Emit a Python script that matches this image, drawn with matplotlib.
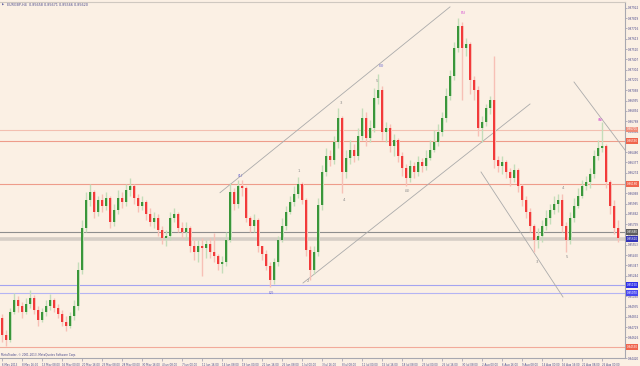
import numpy as np
import matplotlib
matplotlib.use("Agg")
import matplotlib.pyplot as plt
from matplotlib.transforms import blended_transform_factory

# --- data (H4 candles, one entry per candle) ---
chart_title = "EURGBP,H4  0.85658 0.85671 0.85566 0.85620"
copyright_text = "MetaTrader, \u00a9 2001-2013, MetaQuotes Software Corp."

first_open = 0.8482

closes = [
    0.8465, 0.8460, 0.8488, 0.8500, 0.8494, 0.8488, 0.8496, 0.8502, 0.8490, 0.8480,
    0.8488, 0.8494, 0.8500, 0.8492, 0.8486, 0.8478, 0.8474, 0.8484, 0.8494, 0.8530,
    0.8572, 0.8600, 0.8608, 0.8588, 0.8600, 0.8594, 0.8602, 0.8578, 0.8590, 0.8602,
    0.8598, 0.8610, 0.8614, 0.8602, 0.8594, 0.8598, 0.8586, 0.8578, 0.8582, 0.8570,
    0.8562, 0.8564, 0.8582, 0.8586, 0.8572, 0.8568, 0.8572, 0.8554, 0.8548, 0.8554,
    0.8552, 0.8556, 0.8548, 0.8544, 0.8536, 0.8538, 0.8560, 0.8608, 0.8596, 0.8614,
    0.8612, 0.8582, 0.8574, 0.8580, 0.8554, 0.8546, 0.8534, 0.8520, 0.8538, 0.8560,
    0.8574, 0.8588, 0.8598, 0.8606, 0.8616, 0.8600, 0.8550, 0.8530, 0.8548, 0.8595,
    0.8628, 0.8644, 0.8640, 0.8658, 0.8682, 0.8628, 0.8642, 0.8650, 0.8644, 0.8664,
    0.8682, 0.8662, 0.8672, 0.8702, 0.8710, 0.8668, 0.8672, 0.8654, 0.8660, 0.8644,
    0.8632, 0.8622, 0.8634, 0.8628, 0.8638, 0.8634, 0.8642, 0.8650, 0.8658, 0.8668,
    0.8682, 0.8704, 0.8724, 0.8752, 0.8774, 0.8752, 0.8756, 0.8720, 0.8710, 0.8672,
    0.8678, 0.8692, 0.8700, 0.8640, 0.8634, 0.8638, 0.8628, 0.8622, 0.8630, 0.8614,
    0.8600, 0.8588, 0.8574, 0.8560, 0.8564, 0.8574, 0.8582, 0.8590, 0.8596, 0.8600,
    0.8574, 0.8560, 0.8582, 0.8594, 0.8604, 0.8614, 0.8618, 0.8626, 0.8644, 0.8652,
    0.8654, 0.8618, 0.8594, 0.8572, 0.8562,
]

highs = [
    0.8486, 0.8470, 0.8492, 0.8507, 0.8504, 0.8498, 0.8502, 0.8510, 0.8505, 0.8494,
    0.8492, 0.8500, 0.8506, 0.8502, 0.8496, 0.8490, 0.8484, 0.8488, 0.8500, 0.8538,
    0.8580, 0.8608, 0.8616, 0.8610, 0.8604, 0.8606, 0.8608, 0.8604, 0.8596, 0.8610,
    0.8608, 0.8616, 0.8622, 0.8616, 0.8606, 0.8604, 0.8600, 0.8592, 0.8588, 0.8586,
    0.8574, 0.8570, 0.8588, 0.8592, 0.8588, 0.8578, 0.8578, 0.8574, 0.8560, 0.8560,
    0.8562, 0.8560, 0.8562, 0.8567, 0.8546, 0.8544, 0.8568, 0.8617, 0.8612, 0.8620,
    0.8620, 0.8614, 0.8584, 0.8586, 0.8582, 0.8554, 0.8550, 0.8538, 0.8542, 0.8564,
    0.8582, 0.8594, 0.8604, 0.8614, 0.8623, 0.8618, 0.8602, 0.8554, 0.8554, 0.8602,
    0.8635, 0.8652, 0.8650, 0.8664, 0.8692, 0.8684, 0.8650, 0.8660, 0.8656, 0.8672,
    0.8692, 0.8688, 0.8680, 0.8712, 0.8726, 0.8714, 0.8678, 0.8676, 0.8666, 0.8662,
    0.8648, 0.8636, 0.8640, 0.8638, 0.8644, 0.8642, 0.8650, 0.8660, 0.8670, 0.8676,
    0.8688, 0.8712, 0.8730, 0.8758, 0.8782, 0.8778, 0.8762, 0.8758, 0.8724, 0.8714,
    0.8684, 0.8696, 0.8704, 0.8744, 0.8644, 0.8644, 0.8640, 0.8632, 0.8636, 0.8632,
    0.8616, 0.8604, 0.8592, 0.8576, 0.8572, 0.8580, 0.8590, 0.8596, 0.8604, 0.8606,
    0.8606, 0.8578, 0.8588, 0.8602, 0.8612, 0.8620, 0.8624, 0.8632, 0.8650, 0.8660,
    0.8678, 0.8656, 0.8620, 0.8600, 0.8580,
]

lows = [
    0.8458, 0.8454, 0.8458, 0.8486, 0.8488, 0.8482, 0.8486, 0.8492, 0.8486, 0.8474,
    0.8478, 0.8484, 0.8490, 0.8488, 0.8482, 0.8474, 0.8469, 0.8472, 0.8480, 0.8490,
    0.8526, 0.8568, 0.8594, 0.8582, 0.8584, 0.8588, 0.8590, 0.8572, 0.8574, 0.8586,
    0.8592, 0.8594, 0.8604, 0.8596, 0.8588, 0.8590, 0.8580, 0.8574, 0.8572, 0.8564,
    0.8556, 0.8554, 0.8560, 0.8578, 0.8568, 0.8562, 0.8560, 0.8548, 0.8540, 0.8538,
    0.8524, 0.8542, 0.8542, 0.8538, 0.8530, 0.8527, 0.8534, 0.8558, 0.8590, 0.8592,
    0.8604, 0.8578, 0.8568, 0.8568, 0.8548, 0.8540, 0.8530, 0.8513, 0.8516, 0.8534,
    0.8558, 0.8570, 0.8586, 0.8594, 0.8602, 0.8596, 0.8544, 0.8520, 0.8526, 0.8544,
    0.8590, 0.8624, 0.8634, 0.8636, 0.8652, 0.8607, 0.8622, 0.8636, 0.8638, 0.8640,
    0.8660, 0.8654, 0.8658, 0.8668, 0.8696, 0.8660, 0.8658, 0.8648, 0.8644, 0.8638,
    0.8624, 0.8614, 0.8618, 0.8622, 0.8624, 0.8628, 0.8630, 0.8640, 0.8648, 0.8654,
    0.8664, 0.8678, 0.8700, 0.8720, 0.8748, 0.8700, 0.8744, 0.8706, 0.8700, 0.8664,
    0.8658, 0.8674, 0.8686, 0.8632, 0.8628, 0.8626, 0.8622, 0.8614, 0.8618, 0.8608,
    0.8594, 0.8582, 0.8568, 0.8548, 0.8552, 0.8558, 0.8570, 0.8576, 0.8586, 0.8588,
    0.8568, 0.8548, 0.8556, 0.8578, 0.8592, 0.8602, 0.8610, 0.8612, 0.8622, 0.8640,
    0.8648, 0.8612, 0.8586, 0.8566, 0.8558,
]

date_labels = [
    "6 May 2013", "8 May 16:00", "13 May 08:00", "16 May 00:00", "20 May 16:00",
    "23 May 08:00", "28 May 00:00", "30 May 16:00", "4 Jun 08:00", "7 Jun 00:00",
    "11 Jun 16:00", "14 Jun 08:00", "19 Jun 00:00", "21 Jun 16:00", "26 Jun 08:00",
    "1 Jul 00:00", "3 Jul 16:00", "8 Jul 08:00", "11 Jul 00:00", "15 Jul 16:00",
    "18 Jul 08:00", "23 Jul 00:00", "25 Jul 16:00", "30 Jul 08:00", "2 Aug 00:00",
    "6 Aug 16:00", "9 Aug 08:00", "14 Aug 00:00", "16 Aug 16:00", "21 Aug 08:00",
    "26 Aug 00:00",
]
bars_per_label = 5

# horizontal levels
level_prices = [0.86705, 0.86590, 0.86160, 0.85680, 0.85610, 0.85150, 0.85070, 0.84530]
level_colors = ["#F3BFB0", "#EE9C8A", "#EE9C8A", "#8E8E8E", "#D6CEC6",
                "#A4A4F0", "#B4B4F4", "#F2AA9A"]
level_widths = [0.8, 0.8, 0.8, 0.8, 2.6, 0.8, 0.8, 0.8]
level_boxes = ["#F08C78", "#F0644C", "#F0644C", "#5E5E5E", "#3434B8",
               "#3030E8", "#4848F0", "#F0644C"]

# trend lines: (bar, price) -> (bar, price)
trend_start_bar = [54.5, 75.25, 143.0, 119.75]
trend_start_price = [0.86073, 0.85170, 0.87180, 0.86280]
trend_end_bar = [112.0, 132.0, 155.75, 140.25]
trend_end_price = [0.87931, 0.86960, 0.86500, 0.85030]

# wave labels
wave_text = ["(1)", "(2)", "1", "2", "3", "4", "5", "(3)", "(4)", "(5)",
             "3", "4", "5", "(A)"]
wave_bar = [59.5, 67.25, 74.25, 76.5, 84.75, 85.5, 93.75, 94.75, 101.25, 115.25,
            133.75, 140.25, 141.25, 149.5]
wave_price = [0.8624, 0.8507, 0.8629, 0.8519, 0.8697, 0.8600, 0.8719, 0.8734,
              0.8609, 0.8787, 0.8538, 0.8612, 0.8543, 0.8680]
wave_color = ["#5A5ACC", "#5A5ACC", "#8A8A8A", "#8A8A8A", "#8A8A8A", "#8A8A8A",
              "#8A8A8A", "#5A5ACC", "#8A8A8A", "#D040D0", "#8A8A8A", "#8A8A8A",
              "#8A8A8A", "#D040D0"]

BG = "#FBF0E4"
TEXT = "#4A4A8C"


def draw_candles(ax):
    """Draw the candles with pale shadows and saturated cores."""
    c = np.array(closes)
    o = np.concatenate([[first_open], c[:-1]])
    h = np.array(highs)
    lo = np.array(lows)
    x = np.arange(len(c))
    up = c >= o

    pale = np.where(up, "#C4DDBA", "#F7C0B6")
    core = np.where(up, "#3A963A", "#F23A3A")

    ax.vlines(x, lo, h, colors=pale, linewidth=1.0, zorder=3)
    ax.bar(x, c - o, bottom=o, width=0.75, color=pale, linewidth=0, zorder=3)
    ax.bar(x, c - o, bottom=o, width=0.26, color=core, linewidth=0, zorder=4)


def main():
    fig = plt.figure(figsize=(6.4, 3.66), dpi=100, facecolor=BG)
    ax = fig.add_axes([0.0, 8 / 366, 625 / 640, 356 / 366])
    ax.set_facecolor(BG)

    ax.set_xlim(-0.5, 155.75)
    ax.set_ylim(0.8442, 0.8798)

    for p, col, lw in zip(level_prices, level_colors, level_widths):
        ax.axhline(p, color=col, linewidth=lw, zorder=1)

    for xs, ps, xe, pe in zip(trend_start_bar, trend_start_price,
                              trend_end_bar, trend_end_price):
        ax.plot([xs, xe], [ps, pe], color="#ABABAB", linewidth=0.6, zorder=2)

    draw_candles(ax)

    for t, b, p, col in zip(wave_text, wave_bar, wave_price, wave_color):
        ax.text(b, p, t, color=col, fontsize=2.8, ha="center", va="center",
                zorder=6)

    # right price scale
    ticks = np.arange(0.8442, 0.8799, 0.00103)
    ax.yaxis.tick_right()
    ax.set_yticks(ticks)
    ax.set_yticklabels([f"{t:.5f}" for t in ticks])
    ax.tick_params(axis="y", length=1.2, width=0.4, pad=0.6, labelsize=1.95,
                   colors="#8080A0", labelcolor=TEXT)

    # bottom time scale
    xt = np.arange(len(date_labels)) * bars_per_label
    ax.set_xticks(xt)
    ax.set_xticklabels(date_labels)
    ax.tick_params(axis="x", length=2.5, width=0.4, pad=0.8, labelsize=1.9,
                   colors="#8080A0", labelcolor=TEXT)
    for lab in ax.get_xticklabels():
        lab.set_horizontalalignment("left")

    ax.spines["left"].set_visible(False)
    ax.spines["top"].set_color("#CFC8C0")
    ax.spines["bottom"].set_color("#A8A8B0")
    ax.spines["right"].set_color("#A8A8B0")
    for s in ax.spines.values():
        s.set_linewidth(0.8)

    # price boxes on the scale
    tr = blended_transform_factory(ax.transAxes, ax.transData)
    for p, col in zip(level_prices, level_boxes):
        ax.text(1.003, p, f"{p:.5f}", transform=tr, fontsize=1.95, color="white",
                ha="left", va="center", clip_on=False, zorder=7,
                bbox=dict(boxstyle="square,pad=0.2", fc=col, ec="none"))

    fig.text(7 / 640, 1 - 5 / 366, chart_title, fontsize=2.4, color=TEXT,
             va="center", ha="left")
    fig.text(2 / 640, 1 - 5 / 366, "\u25b6", fontsize=2.0, color="#6060A0",
             va="center", ha="left")
    fig.text(1 / 640, 1 - 355 / 366, copyright_text, fontsize=2.0, color=TEXT,
             va="center", ha="left")

    fig.savefig("out.png", dpi=100, facecolor=BG)


if __name__ == "__main__":
    main()
